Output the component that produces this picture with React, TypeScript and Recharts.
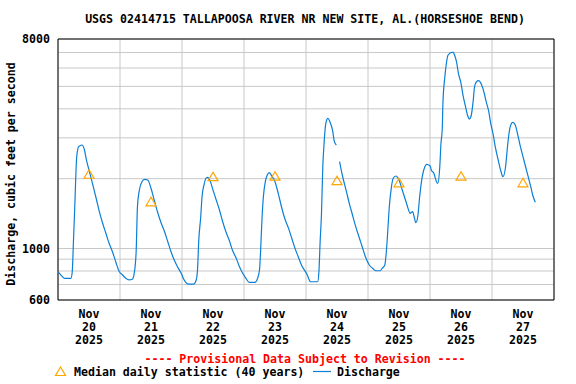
import React from 'react'
import { ComposedChart, Line, Scatter, XAxis, YAxis, CartesianGrid, ReferenceArea } from 'recharts'

// hours since Nov 20 00:00
const hours = [
  0.25, 1.5, 2.5, 5, 5.5, 6, 6.5, 7.25, 8, 9.25, 10.25, 11, 12, 13.5, 14.75, 16, 17.25, 18.5, 19.75, 21.25, 22.5, 23.75,
  25, 26.25, 27.5, 28.75, 29.5, 30.25, 30.75, 31.5, 32.5, 33.5, 34.75, 36, 37.25, 38.5, 39.75, 41.25, 42.5, 43.75, 45, 46.25,
  48, 48.5, 50.5, 52.5, 53.5, 54, 54.5, 55.25, 55.75, 56.5, 57.25, 58, 58.75, 60, 61.25, 62.5, 63.75, 65, 66.25, 67.5, 69, 70.25, 71.5,
  72.75, 74, 76.25, 77.25, 78, 78.5, 79, 79.5, 80.25, 81, 81.75, 82.75, 84, 85.25, 86.5, 87.75, 89.25, 90.5, 91.75, 93, 94.25,
  96, 96.5, 97.75, 100.5, 101, 101.5, 102, 102.5, 103, 103.5, 104, 104.5, 105.25, 106.25, 107, 107.75, 108.5, 109, 109.5, 110.5,
  111.5, 112.75, 114, 115.25, 116.5, 117.75, 119,
  120.5, 121.75, 123, 124.75, 125.5, 126.5, 127.25, 127.75, 128.25, 129, 129.75, 130.75, 132, 133.25, 134.5, 135.5, 136.25,
  137.25, 138, 138.5, 139.25, 140, 141, 142, 142.75,
  144, 144.5, 145.5, 146.5, 147, 147.75, 148.25, 148.75, 149, 149.75, 150.25, 151, 152.5, 153, 153.5, 154.25, 155, 156, 156.75,
  157.75, 158.5, 159.25, 160, 160.75, 161.25, 162, 162.75, 164, 165, 165.75, 166.75,
  167.5, 168.5, 169.25, 170.25, 171.5, 172.25, 173.25, 174, 174.5, 175.25, 176, 177, 178, 179, 180, 181, 182, 183, 183.75, 184.75,
]

// discharge, cfs (null = gap in record)
const cfs = [
  790, 761, 744, 744, 790, 1088, 1525, 2488, 2747, 2794, 2658, 2408, 2180, 1878, 1651, 1441, 1288, 1166, 1056, 956, 866, 794,
  769, 744, 732, 737, 782, 969, 1514, 1787, 1941, 1987, 1974, 1818, 1619, 1441, 1305, 1181, 1070, 969, 892, 835,
  769, 744, 703, 703, 732, 808, 1088, 1371, 1672, 1878, 2007, 2027, 1974, 1787, 1619, 1466, 1305, 1181, 1088, 985, 908, 835, 782,
  744, 715, 715, 744, 808, 1018, 1371, 1672, 1941, 2074, 2122, 2054, 1941, 1730, 1514, 1350, 1222, 1107, 1002, 922, 849,
  787, 769, 719, 719, 794, 1088, 1418, 2252, 2842, 3351, 3581, 3641, 3521, 3243, 2887, 2794, null, 2367, 2217, 1974,
  1787, 1566, 1395, 1242, 1124, 1018, 922,
  849, 822, 802, 802, 822, 849, 1018, 1242, 1514, 1818, 2007, 2054, 1974, 1787, 1619, 1490, 1418,
  1441, 1350, 1292, 1371, 1672, 2040, 2252, 2307,
  2275, 2180, 2109, 1941, 1910, 2217, 2842, 3298, 4227, 5502, 6182, 6825, 7011, 7011, 6825, 6388, 5691, 5154, 4590,
  4087, 3763, 3616, 3763, 4368, 4983, 5236, 5288, 5068, 4669, 4295, 3889,
  3466, 3085, 2747, 2449, 2143, 2040, 2252, 2747, 3085, 3408, 3500, 3408, 3085, 2747, 2488, 2252, 2040, 1847, 1701, 1582,
]

const medianHours = [12, 36, 60, 84, 108, 132, 156, 180]
const medianCfs = [2090, 1590, 2040, 2050, 1960, 1920, 2050, 1920]

const dayLabels = ['20', '21', '22', '23', '24', '25', '26', '27']
const gridHours = [0, 24, 48, 72, 96, 120, 144, 168, 192]
const yTicks = [600, 700, 800, 900, 1000, 2000, 3000, 4000, 5000, 6000, 7000, 8000]
const yLabeled = [600, 1000, 8000]

const discharge = hours.map((h, i) => ({ h, v: cfs[i] }))
const medians = medianHours.map((h, i) => ({ h, v: medianCfs[i] }))

const FONT = '"DejaVu Sans Mono", monospace'
const FS = 11.6
const BLUE = '#0a7fd6'
const ORANGE = '#ffa500'

const DayTick = (props: any) => {
  const { x, y, index } = props
  return (
    <text x={x} y={y} textAnchor="middle" fontFamily={FONT} fontWeight="bold" fontSize={FS} fill="#000">
      <tspan x={x} dy={18}>Nov</tspan>
      <tspan x={x} dy={13}>{dayLabels[index]}</tspan>
      <tspan x={x} dy={13}>2025</tspan>
    </text>
  )
}

const Triangle = (props: any) => {
  const { cx, cy } = props
  return (
    <polygon
      points={`${cx},${cy - 4.5} ${cx - 5},${cy + 4} ${cx + 5},${cy + 4}`}
      fill="none"
      stroke={ORANGE}
      strokeWidth={1.2}
    />
  )
}

const textStyle = { fontFamily: FONT, fontWeight: 'bold' as const, fontSize: FS }

export default function App() {
  return (
    <div style={{ position: 'absolute', left: 0, top: 0, width: 576, height: 384, background: '#fff' }}>
      <ComposedChart width={576} height={384} margin={{ top: 39, right: 22, left: 0, bottom: 0 }}>
        <CartesianGrid xAxisId="grid" stroke="#c8c8c8" strokeWidth={1} />
        <XAxis
          dataKey="h"
          type="number"
          domain={[0, 192]}
          ticks={medianHours}
          tick={<DayTick />}
          tickLine={false}
          tickSize={0}
          tickMargin={0}
          axisLine={false}
          height={84}
          interval={0}
          allowDataOverflow
        />
        <XAxis xAxisId="grid" dataKey="h" type="number" domain={[0, 192]} ticks={gridHours} hide allowDataOverflow />
        <YAxis
          dataKey="v"
          scale="log"
          type="number"
          domain={[600, 8000]}
          ticks={yTicks}
          interval={0}
          allowDataOverflow
          width={58}
          tickLine={false}
          tickSize={6}
          tickMargin={2}
          axisLine={false}
          tick={{ ...textStyle, fill: '#000' }}
          tickFormatter={(v: number) => (yLabeled.includes(v) ? String(v) : '')}
        />
        <ReferenceArea
          x1={0}
          x2={192}
          y1={600}
          y2={8000}
          fill="none"
          stroke="#000"
          strokeWidth={1}
          strokeOpacity={1}
          ifOverflow="visible"
        />
        <Line
          data={discharge}
          dataKey="v"
          type="monotone"
          stroke={BLUE}
          strokeWidth={1.2}
          dot={false}
          connectNulls={false}
          isAnimationActive={false}
        />
        <Scatter data={medians} dataKey="v" shape={<Triangle />} isAnimationActive={false} />
      </ComposedChart>
      <svg width={576} height={384} style={{ position: 'absolute', left: 0, top: 0, pointerEvents: 'none' }}>
        <text x={305} y={23} textAnchor="middle" {...textStyle} fill="#000">
          USGS 02414715 TALLAPOOSA RIVER NR NEW SITE, AL.(HORSESHOE BEND)
        </text>
        <text transform="translate(15,174) rotate(-90)" textAnchor="middle" {...textStyle} fill="#000">
          Discharge, cubic feet per second
        </text>
        <text x={305} y={363} textAnchor="middle" {...textStyle} fill="#ff0000">
          ---- Provisional Data Subject to Revision ----
        </text>
        <polygon points="60.5,367 55.5,375.5 65.5,375.5" fill="none" stroke={ORANGE} strokeWidth={1.2} />
        <text x={74} y={376} {...textStyle} fill="#000">Median daily statistic (40 years)</text>
        <line x1={313} y1={371.5} x2={331} y2={371.5} stroke={BLUE} strokeWidth={1.2} />
        <text x={337} y={376} {...textStyle} fill="#000">Discharge</text>
      </svg>
    </div>
  )
}
